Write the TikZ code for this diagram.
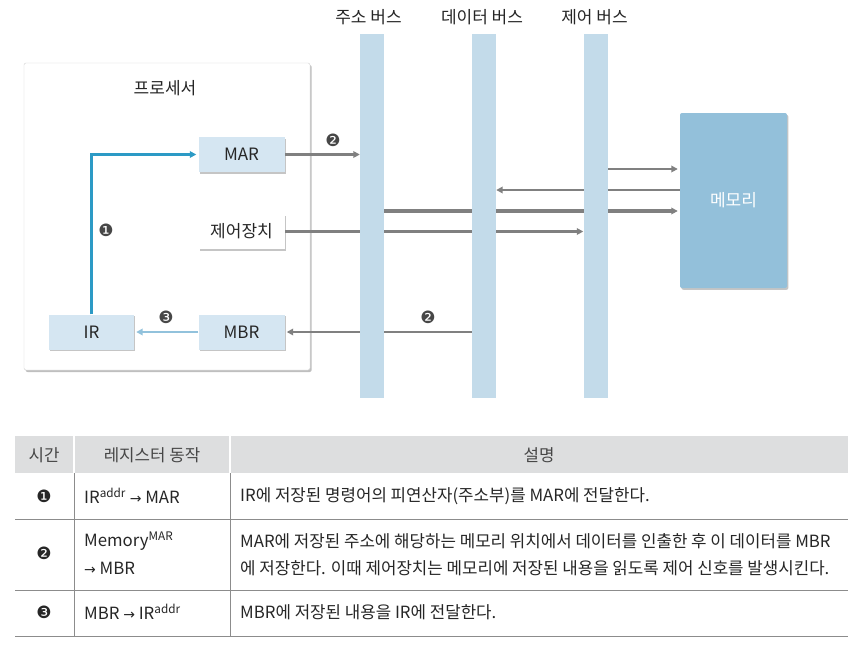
\documentclass[tikz,border=0pt]{standalone}
\usepackage{fontspec}
\setmainfont{Noto Sans CJK KR}
\newfontfamily\dingfont{DejaVu Sans}
\usetikzlibrary{arrows.meta,shadows}
\definecolor{busblue}{HTML}{C3DBEA}
\definecolor{regblue}{HTML}{D5E6F2}
\definecolor{memblue}{HTML}{93C0DA}
\definecolor{linkblue}{HTML}{2C9AC5}
\definecolor{paleblue}{HTML}{92C2DC}
\definecolor{wiregray}{HTML}{808080}
\definecolor{headgray}{HTML}{DDDEDF}
\definecolor{rulegray}{HTML}{8C8C8C}
\definecolor{ink}{HTML}{262626}
\pgfdeclarelayer{back}\pgfdeclarelayer{wires}
\pgfsetlayers{back,wires,main}
\newcommand{\tarrow}{{\dingfont\fontsize{14pt}{14pt}\selectfont →}}

\begin{document}
\begin{tikzpicture}[x=1pt, y=-1pt, >={Triangle[length=6.5pt,width=6.5pt]},
  font=\fontsize{17pt}{20pt}\selectfont, text=ink,
  shade/.style={drop shadow={shadow xshift=1.4pt, shadow yshift=-1.8pt, opacity=0.45}},
  reg/.style={fill=regblue, minimum width=86pt, minimum height=35pt, inner sep=0pt, shade},
  bus/.style={fill=busblue, minimum width=24pt, minimum height=364pt, inner sep=0pt},
  wire/.style={draw=wiregray, line width=2.3pt},
  tag/.style={font=\dingfont\fontsize{17pt}{17pt}\selectfont, text=ink!85, inner sep=0pt},
  head/.style={font=\fontsize{16.8pt}{20pt}\selectfont, text=ink!85},
  cell/.style={font=\fontsize{16.8pt}{20pt}\selectfont, anchor=west, inner sep=0pt}]
  \useasboundingbox (0,0) rectangle (861,645);
  \begin{pgfonlayer}{back}
    \fill[white] (0,0) rectangle (861,645);
    \node[draw=gray!35, fill=white, rounded corners=2pt, minimum width=286pt, minimum height=307pt,
      drop shadow={shadow xshift=1.6pt, shadow yshift=-2pt, opacity=0.5}] (cpu) at (167,216.5) {};
  \end{pgfonlayer}
  \node (cpu-title) at (165,88) {프로세서};
  % registers
  \node[reg] (mar) at (241.5,154.5) {MAR};
  \node[reg, fill=white] (ctrl) at (241.5,231.5) {제어장치};
  \node[reg] (mbr) at (241.5,332) {MBR};
  \node[reg, minimum width=85pt] (ir) at (91.5,332) {IR};
  % buses
  \foreach \name/\x/\lx/\label in {abus/372/368.5/주소 버스, dbus/484/482/데이터 버스, cbus/595.5/594.5/제어 버스}{
    \node[bus] (\name) at (\x,216) {};
    \node (\name-label) at (\lx,17.5) {\label};
  }
  \node[fill=memblue, rounded corners=2pt, minimum width=107pt, minimum height=175pt, text=white, shade] (mem) at (733.5,200.5) {메모리};
  \coordinate (m1) at ([yshift=31.5pt]mem.west);
  \coordinate (m2) at ([yshift=10.5pt]mem.west);
  \coordinate (m3) at ([yshift=-10.5pt]mem.west);
  \begin{pgfonlayer}{wires}
    \draw[->, linkblue, line width=2.6pt, shorten >=2pt] (ir.north) |- (mar.west);
    \draw[->, paleblue, line width=2pt, shorten >=2pt] (mbr.west) -- (ir.east);
    \draw[wire,->] (mar.east) -- (mar.east -| abus.west);
    \draw[wire,->] (ctrl.east) -- (ctrl.east -| cbus.west);
    \draw[wire,<-, shorten <=2pt] (mbr.east) -- (mbr.east -| dbus.west);
    \draw[wire,->, shorten >=2pt] (cbus.east |- m1) -- (m1);
    \draw[wire,<-, line width=2.7pt] (dbus.east |- m2) -- (m2);
    \draw[wire,->, line width=3.2pt, shorten >=2pt] (abus.east |- m3) -- (m3);
  \end{pgfonlayer}
  \node[tag] (t1) at (106,230) {❶};
  \node[tag] (t2a) at (333,140) {❷};
  \node[tag] (t3) at (166,317) {❸};
  \node[tag] (t2b) at (428,317) {❷};
  % table
  \fill[headgray] (15,436) rectangle (848,473);
  \foreach \x in {74,230}{
    \draw[white, line width=1.2pt] (\x,436) -- (\x,473);
    \draw[rulegray, line width=0.8pt] (\x,473) -- (\x,636);
  }
  \foreach \y in {519,590,636}
    \draw[rulegray, line width=0.9pt] (15,\y) -- (848,\y);
  \node[head] (h1) at (44,455) {시간};
  \node[head] (h2) at (152,455) {레지스터 동작};
  \node[head] (h3) at (539,455) {설명};
  \node[tag, text=ink] (n1) at (44,496) {❶};
  \node[tag, text=ink] (n2) at (44,553) {❷};
  \node[tag, text=ink] (n3) at (44,612) {❸};
  \node[cell] (r1) at (84,496) {IR\textsuperscript{addr} \tarrow{} MAR};
  \node[cell] (r2a) at (84,541) {Memory\textsuperscript{MAR}};
  \node[cell] (r2b) at (84,568) {\tarrow{} MBR};
  \node[cell] (r3) at (84,612) {MBR \tarrow{} IR\textsuperscript{addr}};
  \node[cell] (d1) at (240,496) {IR에 저장된 명령어의 피연산자(주소부)를 MAR에 전달한다.};
  \node[cell] (d2a) at (240,541) {MAR에 저장된 주소에 해당하는 메모리 위치에서 데이터를 인출한 후 이 데이터를 MBR};
  \node[cell] (d2b) at (240,568) {에 저장한다. 이때 제어장치는 메모리에 저장된 내용을 읽도록 제어 신호를 발생시킨다.};
  \node[cell] (d3) at (240,612) {MBR에 저장된 내용을 IR에 전달한다.};
\end{tikzpicture}
\end{document}
